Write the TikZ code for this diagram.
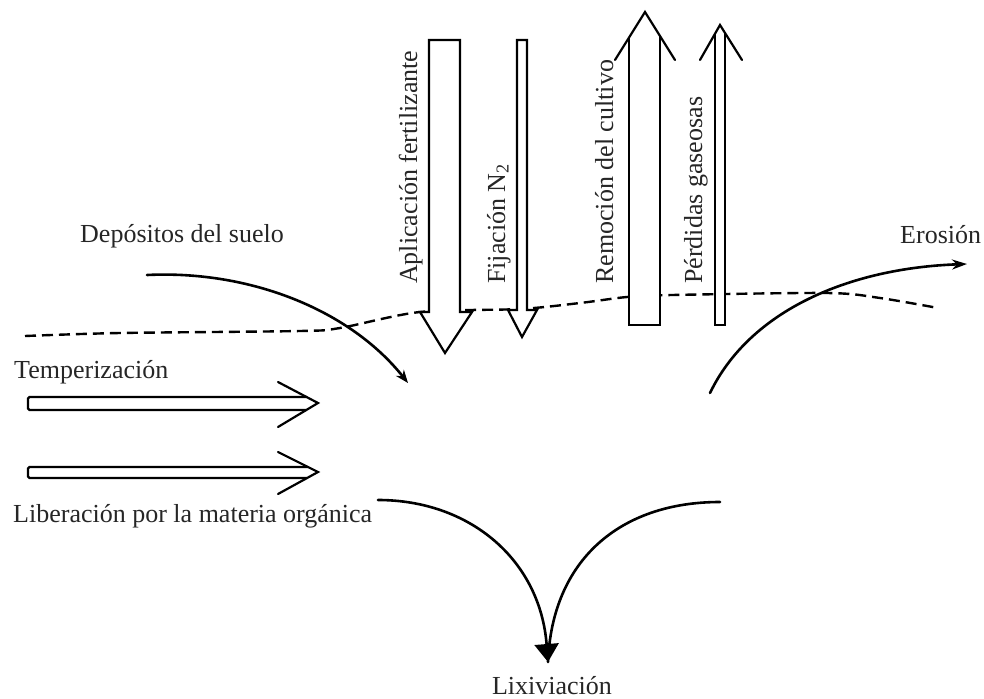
\documentclass[tikz,border=0pt]{standalone}
\usepackage{fontspec}
\setmainfont{Liberation Serif}
\usetikzlibrary{arrows.meta}
\tikzset{
  lbl/.style={inner sep=0pt, font=\fontsize{26}{30}\selectfont, text=black!85},
  vlbl/.style={lbl, rotate=90, anchor=base west},
  flow/.style={line width=2.6pt, line cap=round},
  fatarrow/.style={line width=2.2pt, fill=white, line join=miter},
  thick2/.style={line width=2.2pt},
  soil/.style={line width=2.4pt, dash pattern=on 11pt off 6pt}
}
\begin{document}
\begin{tikzpicture}[x=1pt,y=-1pt]
\useasboundingbox (0,0) rectangle (984,698);
% soil surface (dashed)
\draw[soil] plot[smooth, tension=0.5] coordinates {(25,336) (120,333) (300,331) (340,328) (420,312) (520,309) (580,303) (627,297) (672,295) (827,293) (880,298) (938,308)};
% Aplicacion fertilizante (down)
\draw[fatarrow] (429,40) -- (460,40) -- (460,312) -- (472,312) -- (445,353) -- (420,312) -- (429,312) -- cycle;
% Fijacion N2 (down)
\draw[fatarrow] (517,40) -- (527,40) -- (527,310) -- (537,310) -- (522,337) -- (508,310) -- (517,310) -- cycle;
% Remocion del cultivo (up, open head)
\fill[white] (629,325) -- (629,37.6) -- (645,12) -- (660,36) -- (660,325) -- cycle;
\draw[thick2] (629,37.6) -- (629,325) -- (660,325) -- (660,36);
\draw[thick2, line cap=round] (615,60) -- (645,12) -- (675,60);
% Perdidas gaseosas (up, open head)
\fill[white] (715,325) -- (715,33.7) -- (720,25) -- (725,33) -- (725,325) -- cycle;
\draw[thick2] (715,33.7) -- (715,325) -- (725,325) -- (725,33);
\draw[thick2, line cap=round] (700,60) -- (720,25) -- (742,60);
% Temperizacion (right)
\draw[thick2, rounded corners=1.5pt] (306.6,397) -- (28,397) -- (28,410) -- (306.3,410);
\draw[thick2, line cap=round] (278,382) -- (318,403) -- (278,427);
% Liberacion (right)
\draw[thick2, rounded corners=1.5pt] (308,467) -- (28,467) -- (28,478) -- (307,478);
\draw[thick2, line cap=round] (278,452) -- (318,472) -- (278,494);
% curved flows
\coordinate (dep0) at (147,275);
\coordinate (dep1) at (408,383);
\draw[flow, -{Stealth[length=13pt,width=10pt]}] (dep0) .. controls (250,270) and (350,310) .. (dep1);
\coordinate (ero0) at (710,393);
\coordinate (ero1) at (967,264);
\draw[flow, -{Stealth[length=15pt,width=10pt]}] (ero0) .. controls (750,310) and (850,268) .. (ero1);
\coordinate (lixL) at (378,500);
\coordinate (lixR) at (720,502);
\coordinate (lixT) at (548,662);
\draw[flow] (lixR) .. controls (620,502) and (552,560) .. (lixT);
\draw[flow, -{Triangle[length=18pt,width=24pt]}] (lixL) .. controls (470,500) and (540,560) .. (lixT);
% labels
\node[vlbl] (apl) at (417,284) {Aplicación fertilizante};
\node[vlbl] (fij) at (505,284) {Fijación N\textsubscript{2}};
\node[vlbl] (rem) at (613,284) {Remoción del cultivo};
\node[vlbl] (per) at (702,284) {Pérdidas gaseosas};
\node[lbl, anchor=base west] (dep) at (80,242) {Depósitos del suelo};
\node[lbl, anchor=base west] (ero) at (900,243) {Erosión};
\node[lbl, anchor=base west] (tem) at (14,378) {Temperización};
\node[lbl, anchor=base west] (lib) at (13,522) {Liberación por la materia orgánica};
\node[lbl, anchor=base] (lix) at (552,694) {Lixiviación};
\end{tikzpicture}
\end{document}
